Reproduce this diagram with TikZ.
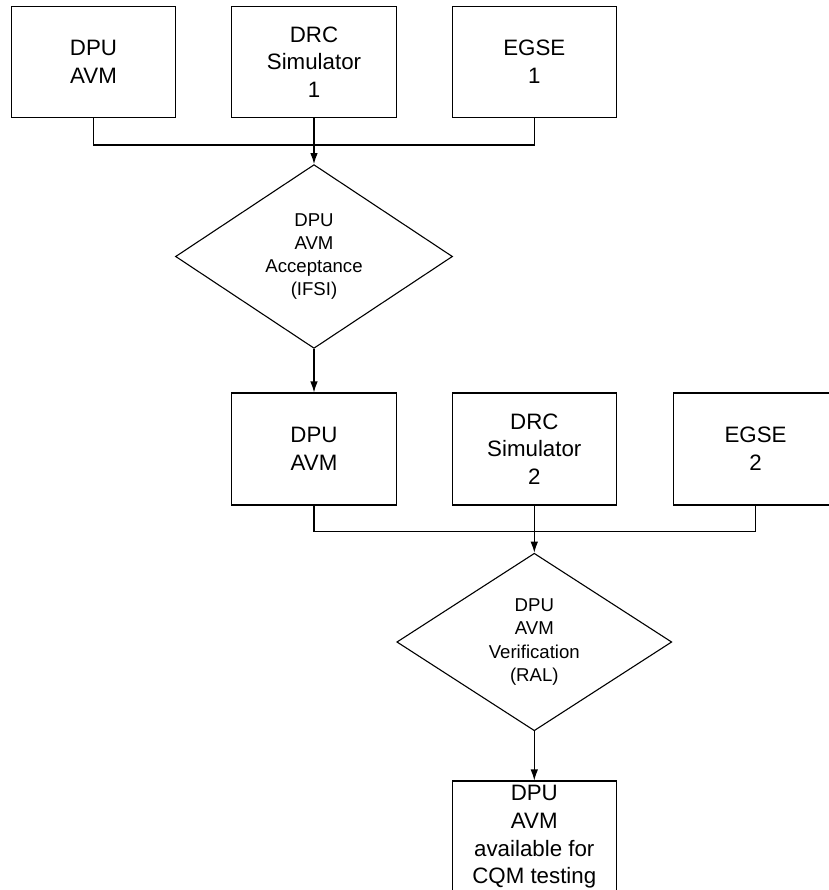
\documentclass[tikz,border=0pt]{standalone}
\usepackage{fontspec}
\setmainfont{Liberation Sans}
\usetikzlibrary{shapes.geometric,arrows.meta}

\tikzset{
  unitbox/.style={draw, line width=1.1pt, minimum width=164.5pt, minimum height=111pt,
    inner sep=0pt, align=center, font=\fontsize{22.3}{27.6}\selectfont},
  checkpoint/.style={draw, diamond, line width=1.1pt, minimum width=277pt, minimum height=165pt,
    inner sep=0pt, align=center, font=\fontsize{18.6}{23.3}\selectfont},
  wire/.style={line width=1.1pt},
  flow/.style={line width=1.1pt, -{Latex[length=11pt,width=7.5pt]}}
}

\begin{document}
\begin{tikzpicture}[x=1pt,y=1pt]
  \useasboundingbox (0,0) rectangle (828,-890);

  % first test set-up
  \node[unitbox] (dpu1) at (93.5,-62)  {DPU\\AVM};
  \node[unitbox] (drc1) at (314,-62)   {DRC\\Simulator\\1};
  \node[unitbox] (egse1) at (534.3,-62) {EGSE\\1};

  \node[checkpoint] (accept) at (314,-256.5) {DPU\\AVM\\Acceptance\\(IFSI)};

  % second test set-up
  \node[unitbox, minimum height=112pt] (dpu2) at (314,-449)   {DPU\\AVM};
  \node[unitbox, minimum height=112pt] (drc2) at (534.3,-449) {DRC\\Simulator\\2};
  \node[unitbox, minimum height=112pt] (egse2) at (755.5,-449) {EGSE\\2};

  \node[checkpoint, minimum width=275pt, minimum height=164pt] (verify) at (534.3,-642) {DPU\\AVM\\Verification\\(RAL)};

  \node[unitbox, minimum height=112pt] (ready) at (534.3,-837) {DPU\\AVM\\available for\\CQM testing};

  % junction points of the collecting lines
  \coordinate (bus1) at (314,-145);
  \coordinate (bus2) at (534.3,-531.5);

  \draw[wire] (dpu1.south) |- (bus1) -| (egse1.south);
  \draw[flow] (drc1.south) -- (accept.north);
  \draw[flow] (accept.south) -- (dpu2.north);

  \draw[wire] (dpu2.south) |- (bus2) -| (egse2.south);
  \draw[flow] (drc2.south) -- (verify.north);
  \draw[flow] (verify.south) -- (ready.north);
\end{tikzpicture}
\end{document}
